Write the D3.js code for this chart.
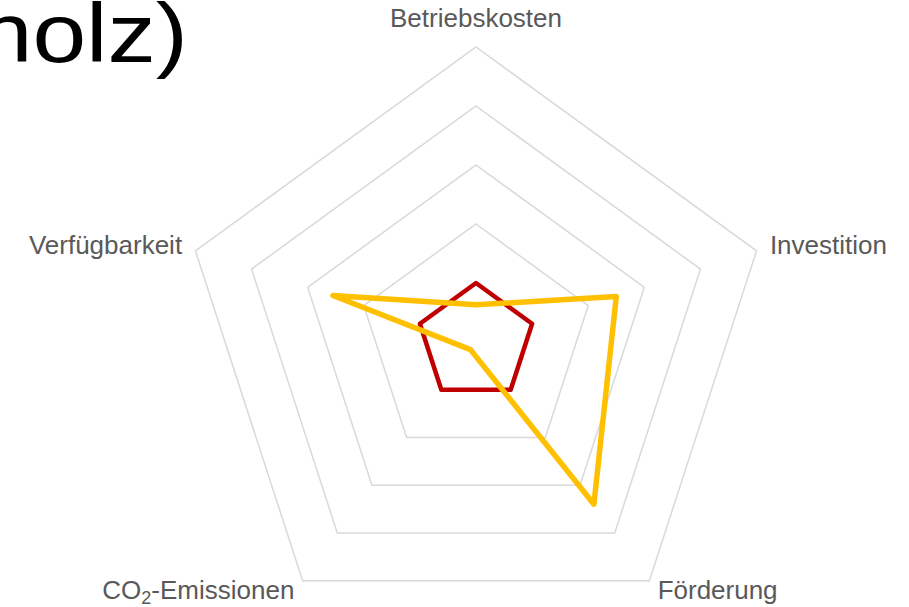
<!DOCTYPE html>
<html>
<head>
<meta charset="utf-8">
<script src="https://cdn.jsdelivr.net/npm/d3@7"></script>
<style>
  html, body { margin: 0; padding: 0; background: #fff; overflow: hidden; }
  svg { display: block; }
</style>
</head>
<body>
<svg id="chart" width="909" height="607"></svg>
<script>
// ---- data ----
const titleText = "Bewertung (Stückholz)";
const axes = ["Betriebskosten", "Investition", "Förderung", "CO2-Emissionen", "Verfügbarkeit"];
const levels = [1, 2, 3, 4, 5];
const seriesNames = ["Referenz", "Stückholz"];
const seriesRed = [1, 1, 1, 1, 1];
const seriesYellow = [0.63, 2.5, 3.4, 0.16, 2.55];
const seriesColors = ["#c00000", "#ffc000"];

// ---- layout ----
const svg = d3.select("#chart");
const cx = 476, cy = 342, R = 295;
const rScale = d3.scaleLinear().domain([0, 5]).range([0, R]);
const angle = d3.scaleLinear().domain([0, axes.length]).range([0, 2 * Math.PI]);

const g = svg.append("g").attr("transform", `translate(${cx},${cy})`);

const radial = d3.lineRadial()
  .angle((d, i) => angle(i))
  .radius(d => rScale(d))
  .curve(d3.curveLinearClosed);

// grid
g.selectAll("path.grid").data(levels).enter().append("path")
  .attr("class", "grid")
  .attr("d", l => radial(axes.map(() => l)))
  .attr("fill", "none")
  .attr("stroke", "#d9d9d9")
  .attr("stroke-width", 1.5);

// series
const series = [seriesRed, seriesYellow];
const widths = [4.5, 5.5];
g.selectAll("path.series").data(series).enter().append("path")
  .attr("class", "series")
  .attr("d", d => radial(d))
  .attr("fill", "none")
  .attr("stroke", (d, i) => seriesColors[i])
  .attr("stroke-width", (d, i) => widths[i])
  .attr("stroke-linejoin", "round");

// axis labels
const labelR = R + 14;
axes.forEach((name, i) => {
  const a = angle(i);
  const s = Math.sin(a), c = Math.cos(a);
  const x = labelR * s, y = -labelR * c;
  const anchor = Math.abs(s) < 0.1 ? "middle" : (s > 0 ? "start" : "end");
  const dy = c > 0.9 ? -6 : 7;
  const t = g.append("text")
    .attr("x", x).attr("y", y + dy)
    .attr("text-anchor", anchor)
    .attr("font-family", "'Liberation Sans', Arial, sans-serif")
    .attr("font-size", 26)
    .attr("fill", "#595959");
  if (name.startsWith("CO2")) {
    t.append("tspan").text("CO");
    t.append("tspan").attr("font-size", 18).attr("dy", 5).text("2");
    t.append("tspan").attr("dy", -5).text(name.slice(3));
  } else {
    t.text(name);
  }
});

// title (partially clipped at the left edge)
svg.append("g")
  .attr("transform", "translate(188,62) scale(1.15,1)")
  .append("text")
  .attr("x", 0).attr("y", 0)
  .attr("text-anchor", "end")
  .attr("font-family", "'Liberation Sans', Arial, sans-serif")
  .attr("font-size", 84)
  .attr("fill", "#000")
  .text(titleText);
</script>
</body>
</html>
